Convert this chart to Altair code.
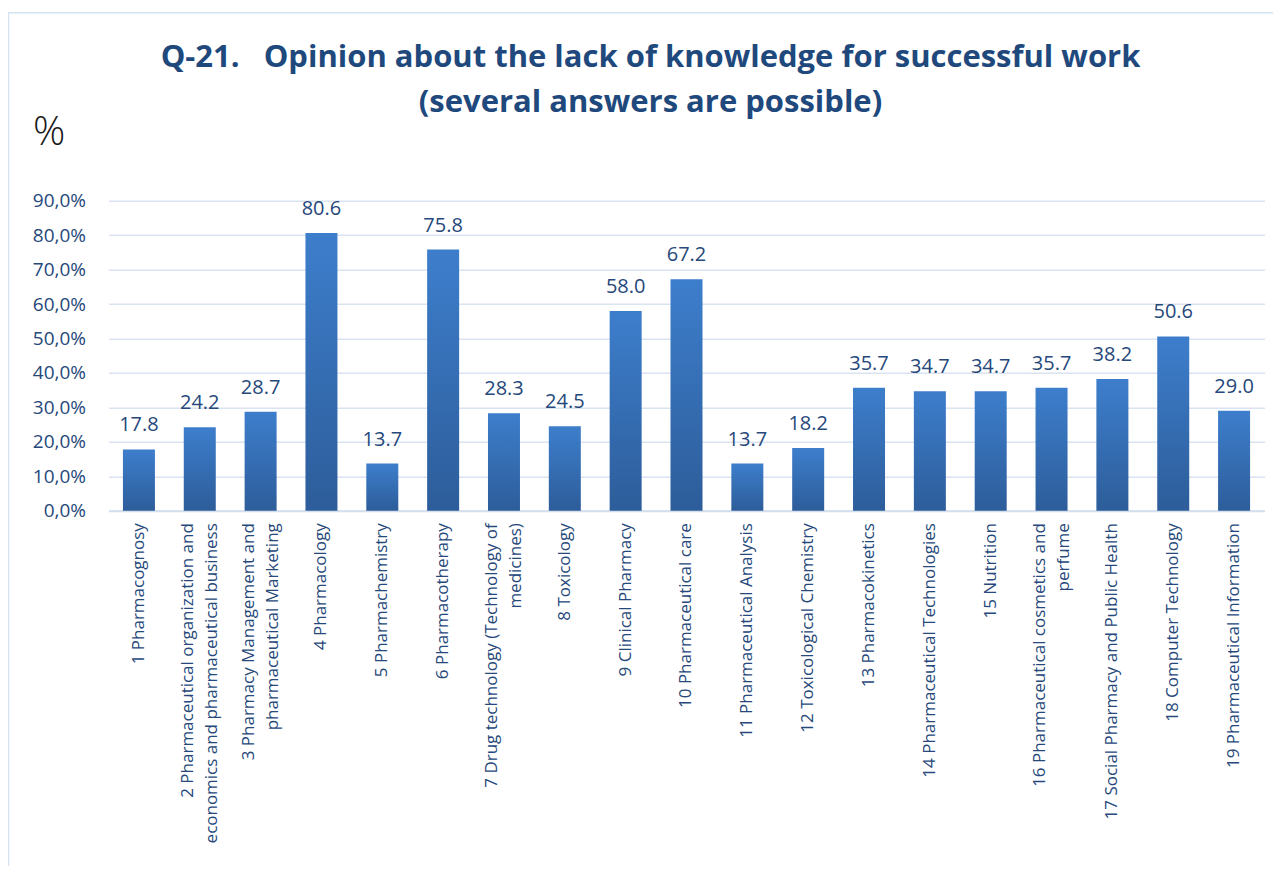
import altair as alt
import pandas as pd

categories = [
    "1 Pharmacognosy",
    "2 Pharmaceutical organization and|economics and pharmaceutical business",
    "3 Pharmacy Management and|pharmaceutical Marketing",
    "4 Pharmacology",
    "5 Pharmachemistry",
    "6 Pharmacotherapy",
    "7 Drug technology (Technology of|medicines)",
    "8 Toxicology",
    "9 Clinical Pharmacy",
    "10 Pharmaceutical care",
    "11 Pharmaceutical Analysis",
    "12 Toxicological Chemistry",
    "13 Pharmacokinetics",
    "14 Pharmaceutical Technologies",
    "15 Nutrition",
    "16 Pharmaceutical cosmetics and|perfume",
    "17 Social Pharmacy and Public Health",
    "18 Computer Technology",
    "19 Pharmaceutical Information",
]
values = [17.8, 24.2, 28.7, 80.6, 13.7, 75.8, 28.3, 24.5, 58.0, 67.2,
          13.7, 18.2, 35.7, 34.7, 34.7, 35.7, 38.2, 50.6, 29.0]
y_ticks = [0, 10, 20, 30, 40, 50, 60, 70, 80, 90]

title_lines = ["Q-21.\u00a0\u00a0\u00a0Opinion about the lack of knowledge for successful work",
               "(several answers are possible)"]

df = pd.DataFrame({"category": categories, "value": values})

TEXT = "#26487A"
FONT = "Open Sans"
W, H = 1156, 310

x_axis = alt.Axis(
    labelAngle=270, labelExpr="split(datum.label, '|')",
    labelFontSize=17, labelFont=FONT, labelColor=TEXT,
    labelLineHeight=24, labelLimit=500, labelPadding=12,
    labelOffset={"condition": {"test": "indexof(datum.label, '|') >= 0", "value": -12}, "value": 0},
    ticks=False, domainColor="#D3DEEE", domainWidth=2,
    labelAlign="right", labelBaseline="middle", labelOverlap=False,
)
y_axis = alt.Axis(
    values=y_ticks, tickCount=10, domain=False, ticks=False, labelOverlap=False,
    labelExpr="replace(format(datum.value, '.1f'), '.', ',') + '%'",
    labelFontSize=19, labelFont=FONT, labelColor=TEXT, labelPadding=23,
    gridColor="#D9E3F1", gridWidth=1.6,
    titleAngle=0, titleAlign="left", titleBaseline="alphabetic",
    titleX=-76, titleY=-56, titleFontSize=40, titleFont=FONT,
    titleFontWeight=300, titleColor="#1A1A1A",
)

x_enc = alt.X("category:N", sort=categories, title=None,
              scale=alt.Scale(paddingInner=0.474, paddingOuter=0.237), axis=x_axis)
y_enc = alt.Y("value:Q", title="%", scale=alt.Scale(domain=[0, 90], nice=False), axis=y_axis)

bars = alt.Chart(df).mark_bar(
    color=alt.Gradient(
        gradient="linear", x1=0, x2=0, y1=0, y2=1,
        stops=[alt.GradientStop(offset=0, color="#3D7ECC"),
               alt.GradientStop(offset=1, color="#2D5D9A")],
    )
).encode(x=x_enc, y=y_enc)

labels = alt.Chart(df).mark_text(
    baseline="alphabetic", dy=-18, fontSize=20, font=FONT, color=TEXT
).encode(x=x_enc, y=y_enc, text=alt.Text("value:Q", format=".1f"))

frame = alt.Chart(pd.DataFrame({"a": [0]})).mark_rect(
    fillOpacity=0, stroke="#D5E2F2", strokeWidth=1.5
).encode(x=alt.value(-100), x2=alt.value(W + 40), y=alt.value(-188), y2=alt.value(H + 420))

chart = alt.layer(frame, bars, labels).properties(
    width=W, height=H,
    title=alt.TitleParams(text=title_lines, fontSize=31, fontWeight="bold", font=FONT,
                          color="#1F497D", lineHeight=45, anchor="middle", dx=-36,
                          frame="group", baseline="alphabetic", offset=-131),
    autosize=alt.AutoSizeParams(type="none"),
    padding={"left": 100.5, "top": 192.7, "right": 8, "bottom": 355},
).configure_view(stroke=None)

chart.save("out.html", embed_options={"renderer": "svg", "actions": False})
